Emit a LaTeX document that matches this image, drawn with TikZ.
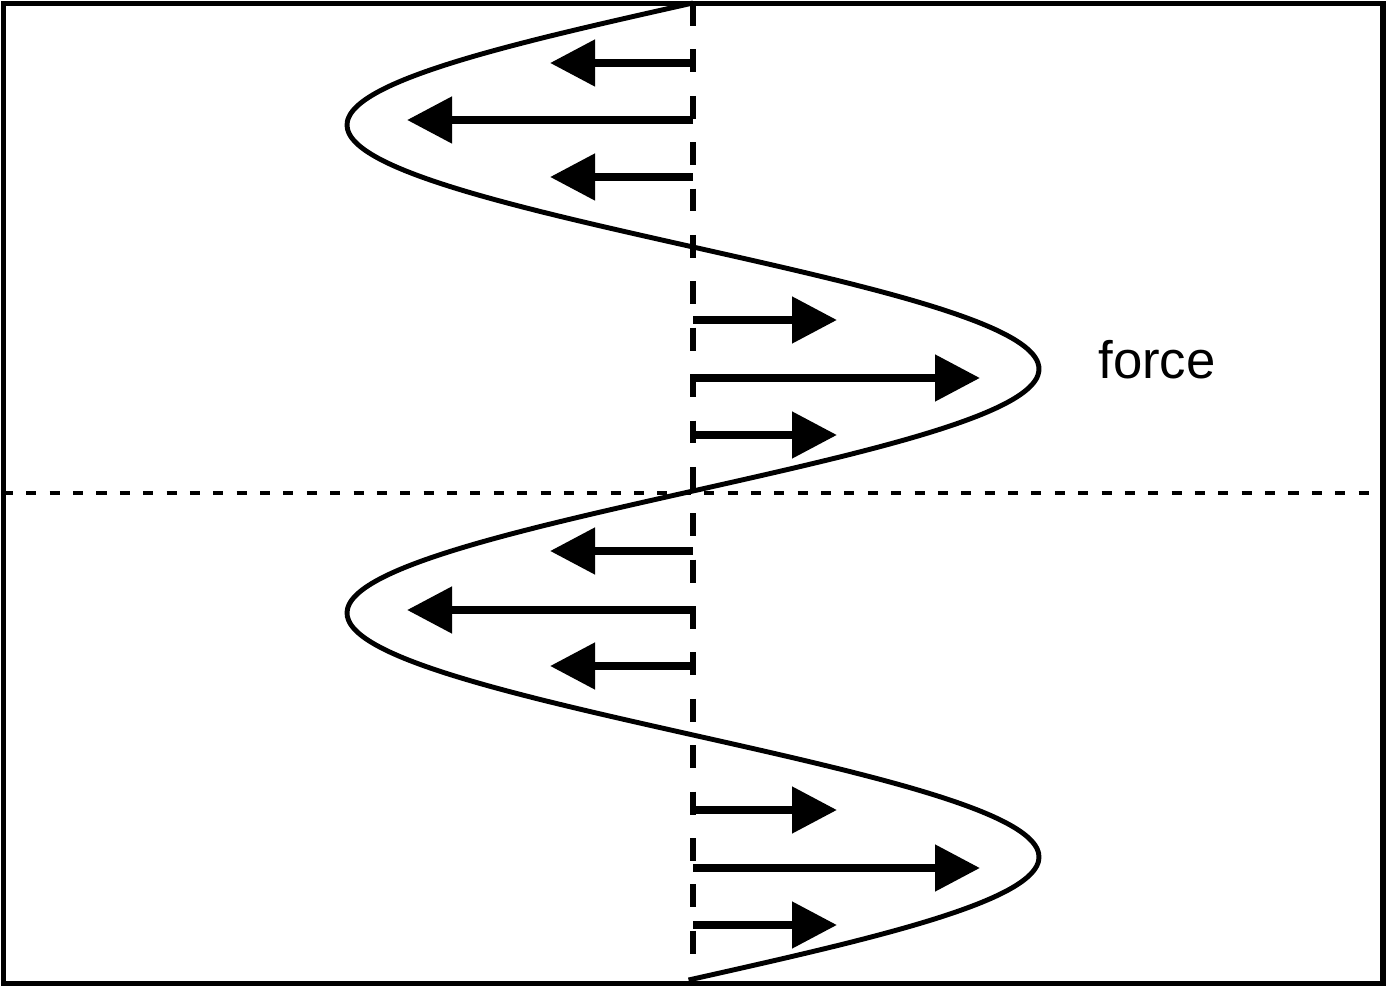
\documentclass[tikz,border=0pt]{standalone}
\usepackage{fontspec}
\setmainfont{Liberation Sans}
\usetikzlibrary{arrows.meta,positioning}

\tikzset{
	frame/.style={line width=1.7pt},
	wave/.style={line width=1.4pt},
	axisline/.style={line width=1.6pt,dash pattern=on 6.5pt off 6.7pt},
	midline/.style={line width=1.4pt,dash pattern=on 2.85pt off 3.8pt},
	forcearrow/.style={line width=2.3pt,-{Triangle[length=4.5mm,width=4.5mm]}}
}

\begin{document}
\begin{tikzpicture}
		
		\useasboundingbox (0,0) rectangle (13.86,9.87);
		
		% outer frame
		\draw[frame] (0.035,0.035) rectangle (13.825,9.835);
		
		% neutral axis and middle line
		\coordinate (top) at (6.93,9.84);
		\coordinate (bottom) at (6.93,0.03);
		\coordinate (left) at (0.03,4.94);
		\coordinate (right) at (13.83,4.94);
		
		\draw[axisline] (top)--(bottom);
		\draw[midline] (left)--(right);
		
		% force distribution
		\draw[wave]
		plot[domain=0.07:9.84,samples=240,smooth]
		({6.93-3.46*sin(360*(9.84-\x)/4.88)},\x);
		
		% arrows pointing left
		\foreach \y/\len in {9.24/1.43,8.67/2.86,8.10/1.43,
			4.36/1.43,3.77/2.86,3.21/1.43}
		\draw[forcearrow] (6.93,\y)--++(-\len,0);
		
		% arrows pointing right
		\foreach \y/\len in {6.67/1.44,6.09/2.87,5.52/1.44,
			1.77/1.44,1.19/2.87,0.62/1.44}
		\draw[forcearrow] (6.93,\y)--++(\len,0);
		
		\node[
		anchor=base,
		font=\fontsize{15}{18}\selectfont
		]
		(F)
		at (11.57,6.08)
		{force};
		
	\end{tikzpicture}
\end{document}
